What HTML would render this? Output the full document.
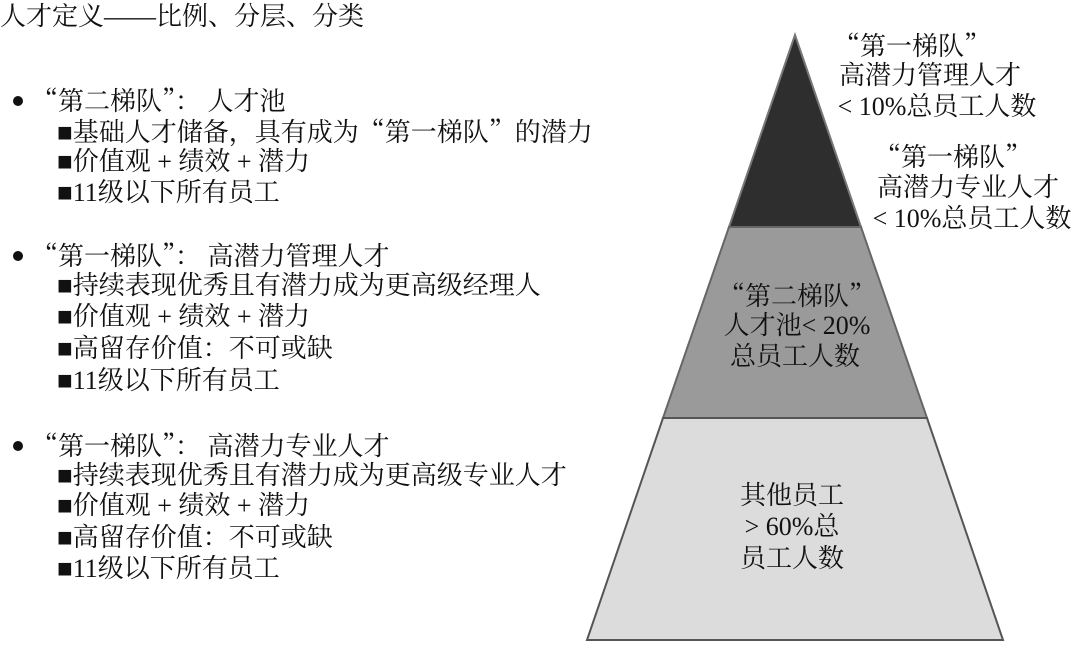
<!DOCTYPE html>
<html><head><meta charset="utf-8"><style>
body{margin:0;width:1080px;height:646px;background:#fff;position:relative;overflow:hidden;font-family:"Liberation Serif","Noto Serif CJK SC",serif;color:#111;}
.t{position:absolute;font-size:26px;line-height:31px;white-space:nowrap;}
.c{text-align:center;transform:translateX(-50%);}
.q{font-family:"Noto Serif CJK SC",serif;}
.b{position:absolute;width:10px;height:10px;border-radius:50%;background:#111;}
</style></head><body>
<svg width="1080" height="646" style="position:absolute;left:0;top:0">
<polygon points="795,35 729,227 861,227" fill="#2e2e2e" stroke="#777" stroke-width="2"/>
<polygon points="729,227 861,227 927,418 663,418" fill="#9a9a9a" stroke="#666" stroke-width="2"/>
<polygon points="663,418 927,418 1003,640 587,640" fill="#dcdcdc" stroke="#555" stroke-width="2"/>
</svg>
<div class="t" style="left:0;top:1px">人才定义——比例、分层、分类</div>
<div class="b" style="left:13px;top:96px"></div>
<div class="t" style="left:32px;top:84px"><span class="q">“</span>第二梯队<span class="q">”</span>： 人才池</div>
<div class="t" style="left:57px;top:115px">■基础人才储备，具有成为<span class="q">“</span>第一梯队<span class="q">”</span>的潜力</div>
<div class="t" style="left:57px;top:146px">■价值观 + 绩效 + 潜力</div>
<div class="t" style="left:57px;top:177px">■11级以下所有员工</div>
<div class="b" style="left:13px;top:251px"></div>
<div class="t" style="left:32px;top:239px"><span class="q">“</span>第一梯队<span class="q">”</span>： 高潜力管理人才</div>
<div class="t" style="left:57px;top:270px">■持续表现优秀且有潜力成为更高级经理人</div>
<div class="t" style="left:57px;top:301px">■价值观 + 绩效 + 潜力</div>
<div class="t" style="left:57px;top:333px">■高留存价值：不可或缺</div>
<div class="t" style="left:57px;top:365px">■11级以下所有员工</div>
<div class="b" style="left:13px;top:441px"></div>
<div class="t" style="left:32px;top:429px"><span class="q">“</span>第一梯队<span class="q">”</span>： 高潜力专业人才</div>
<div class="t" style="left:57px;top:460px">■持续表现优秀且有潜力成为更高级专业人才</div>
<div class="t" style="left:57px;top:490px">■价值观 + 绩效 + 潜力</div>
<div class="t" style="left:57px;top:522px">■高留存价值：不可或缺</div>
<div class="t" style="left:57px;top:553px">■11级以下所有员工</div>

<div class="t c" style="left:912px;top:29px"><span class="q">“</span>第一梯队<span class="q">”</span></div>
<div class="t c" style="left:930px;top:60px">高潜力管理人才</div>
<div class="t c" style="left:937px;top:91px">&lt; 10%总员工人数</div>
<div class="t c" style="left:953px;top:140px"><span class="q">“</span>第一梯队<span class="q">”</span></div>
<div class="t c" style="left:968px;top:172px">高潜力专业人才</div>
<div class="t c" style="left:972px;top:203px">&lt; 10%总员工人数</div>
<div class="t c" style="left:797px;top:279px"><span class="q">“</span>第二梯队<span class="q">”</span></div>
<div class="t c" style="left:797px;top:310px">人才池&lt; 20%</div>
<div class="t c" style="left:795px;top:341px">总员工人数</div>
<div class="t c" style="left:792px;top:480px">其他员工</div>
<div class="t c" style="left:792px;top:511px">&gt; 60%总</div>
<div class="t c" style="left:792px;top:543px">员工人数</div>
</body></html>
